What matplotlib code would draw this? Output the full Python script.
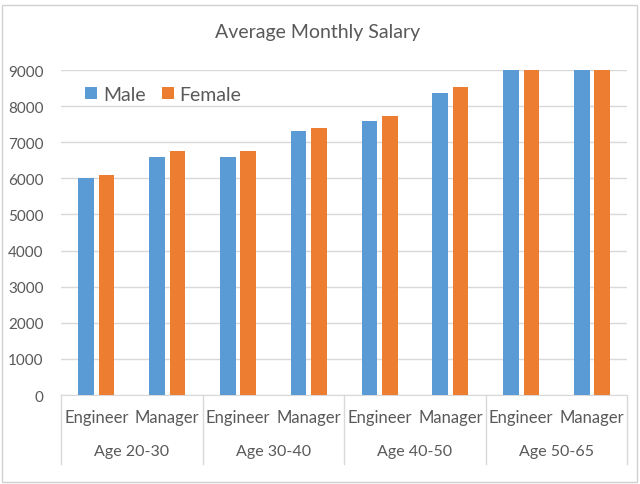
import matplotlib
matplotlib.use("Agg")
import matplotlib.pyplot as plt
import numpy as np
from matplotlib.patches import Rectangle
from matplotlib.lines import Line2D

# data (last group runs past the 9000 axis cap)
age_groups = ["Age 20-30", "Age 30-40", "Age 40-50", "Age 50-65"]
roles = ["Engineer", "Manager"]
male = [6000, 6600, 6600, 7300, 7600, 8370, 9400, 9800]
female = [6100, 6750, 6750, 7400, 7730, 8530, 9600, 10000]

BLUE = "#5B9BD5"
ORANGE = "#ED7D31"
TEXT = "#595959"
GRID = "#D9D9D9"

plt.rcParams["font.family"] = ["Lato", "DejaVu Sans"]

fig = plt.figure(figsize=(6.4, 4.85), dpi=100)
fig.patches.append(Rectangle((0.003, 0.005), 0.992, 0.983, transform=fig.transFigure,
                             fill=False, edgecolor="#D0D0D0", linewidth=1))
ax = fig.add_axes([0.0953, 0.1835, 0.885, 0.67])

x = np.arange(len(male))
w = 0.22
ax.bar(x - 0.145, male, width=w, color=BLUE, label="Male", zorder=3)
ax.bar(x + 0.145, female, width=w, color=ORANGE, label="Female", zorder=3)

ax.set_xlim(-0.5, len(male) - 0.5)
ax.set_ylim(0, 9000)
ax.set_yticks(range(0, 9001, 1000))
ax.tick_params(axis="y", length=0, pad=12.5, labelsize=11, labelcolor=TEXT)
ax.set_xticks([])
ax.grid(axis="y", color=GRID, linewidth=1, zorder=0)
for s in ["top", "right", "left"]:
    ax.spines[s].set_visible(False)
ax.spines["bottom"].set_color(GRID)

# two-level category axis
trans = ax.get_xaxis_transform()
for i in range(len(male)):
    ax.text(i, -0.068, roles[i % 2], transform=trans, ha="center", va="center",
            fontsize=12, color=TEXT)
for g, name in enumerate(age_groups):
    ax.text(2 * g + 0.5, -0.172, name, transform=trans, ha="center", va="center",
            fontsize=11.5, color=TEXT)
for b in np.arange(-0.5, len(male), 2):
    ax.add_line(Line2D([b, b], [0, -0.212], transform=trans, color=GRID,
                       linewidth=1, clip_on=False))

fig.text(0.496, 0.932, "Average Monthly Salary", ha="center", va="center",
         fontsize=14, color=TEXT)

ax.legend(loc="upper left", bbox_to_anchor=(0.012, 1.005), ncol=2, frameon=False,
          fontsize=14, handlelength=0.6, handleheight=0.6, handletextpad=0.3,
          columnspacing=0.85, labelcolor=TEXT)

fig.savefig("out.png", dpi=100)
